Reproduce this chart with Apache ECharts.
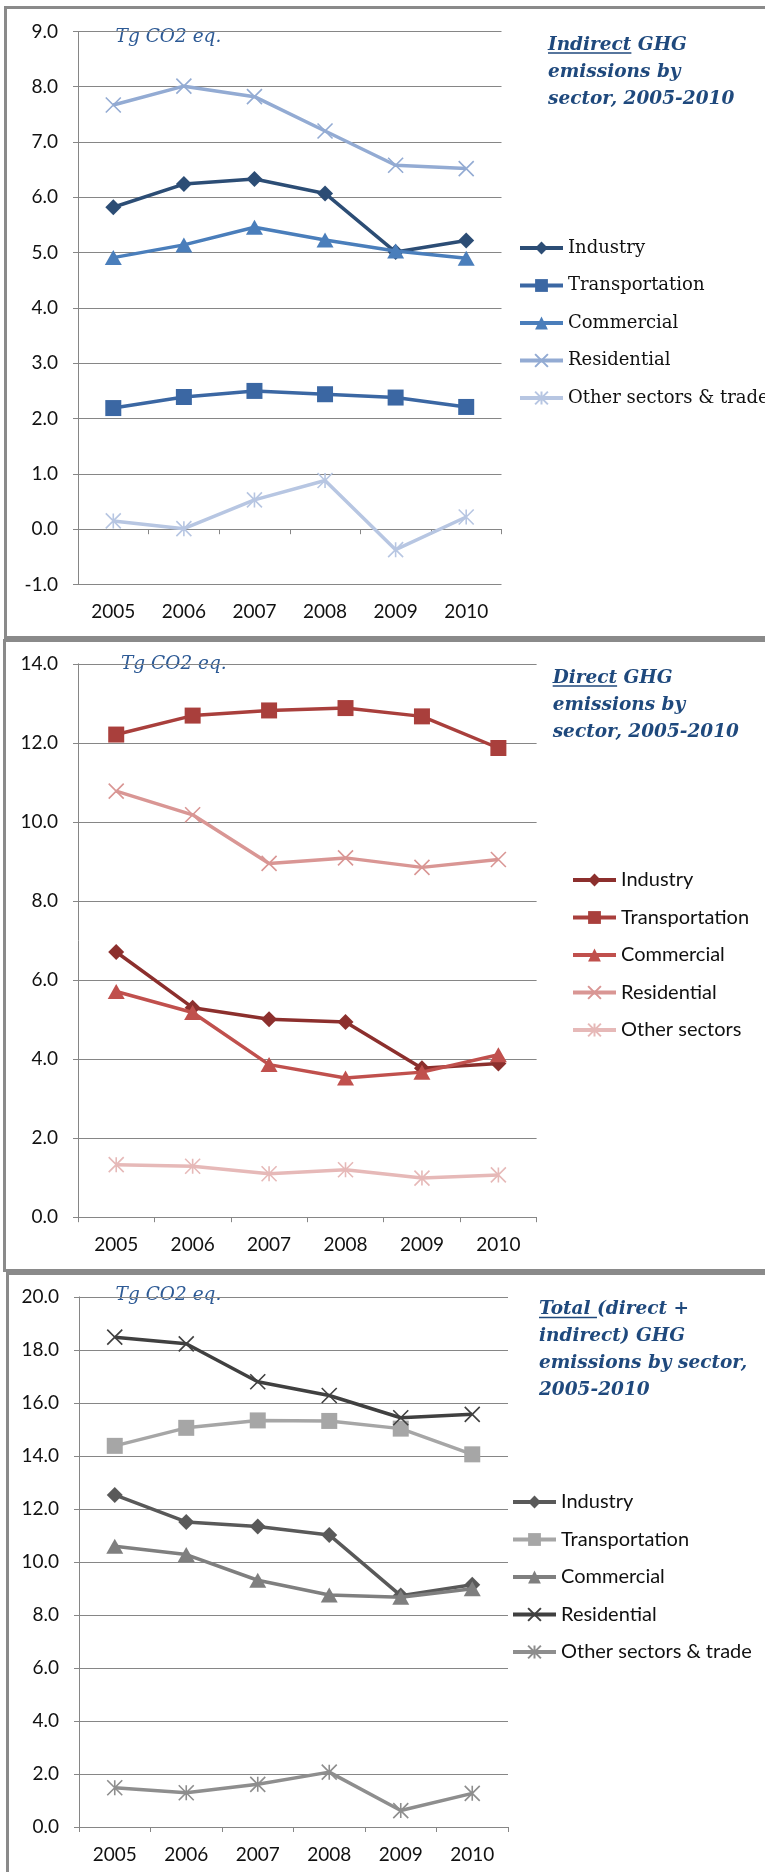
<!DOCTYPE html>
<html>
<head>
<meta charset="utf-8">
<script src="https://cdn.jsdelivr.net/npm/echarts@6/dist/echarts.min.js"></script>
<style>
html,body{margin:0;padding:0;background:#fff;width:765px;height:1872px;overflow:hidden;position:relative}
.panel{position:absolute;border:3px solid #8a8a8a;border-right:none;box-sizing:border-box}
.chart{position:absolute;left:0;width:765px}
</style>
</head>
<body>
<div class="panel" style="left:4px;top:6px;width:800px;height:633px"></div>
<div class="panel" style="left:3px;top:639px;width:800px;height:633px"></div>
<div class="panel" style="left:6px;top:1272px;width:800px;height:700px;border-bottom:none"></div>
<div id="c1" class="chart" style="top:0px;height:637px"></div>
<div id="c2" class="chart" style="top:637px;height:634px"></div>
<div id="c3" class="chart" style="top:1271px;height:601px"></div>
<script>
// ---------- data ----------
const years = ['2005', '2006', '2007', '2008', '2009', '2010'];
const sectorsIndirect = ['Industry', 'Transportation', 'Commercial', 'Residential', 'Other sectors & trade'];
const sectorsDirect = ['Industry', 'Transportation', 'Commercial', 'Residential', 'Other sectors'];
const sectorsTotal = ['Industry', 'Transportation', 'Commercial', 'Residential', 'Other sectors & trade'];

const indirectIndustry = [5.82, 6.24, 6.33, 6.07, 5.01, 5.22];
const indirectTransportation = [2.19, 2.39, 2.50, 2.44, 2.38, 2.21];
const indirectCommercial = [4.91, 5.14, 5.46, 5.23, 5.03, 4.90];
const indirectResidential = [7.67, 8.01, 7.82, 7.20, 6.58, 6.52];
const indirectOther = [0.15, 0.01, 0.53, 0.88, -0.37, 0.22];

const directIndustry = [6.71, 5.30, 5.01, 4.94, 3.77, 3.89];
const directTransportation = [12.21, 12.69, 12.82, 12.88, 12.67, 11.87];
const directCommercial = [5.71, 5.18, 3.86, 3.52, 3.67, 4.11];
const directResidential = [10.78, 10.18, 8.95, 9.09, 8.85, 9.05];
const directOther = [1.33, 1.29, 1.10, 1.20, 0.99, 1.07];

const totalIndustry = [12.53, 11.51, 11.34, 11.02, 8.73, 9.14];
const totalTransportation = [14.38, 15.06, 15.34, 15.32, 15.03, 14.06];
const totalCommercial = [10.59, 10.28, 9.31, 8.75, 8.67, 8.99];
const totalResidential = [18.48, 18.23, 16.80, 16.28, 15.44, 15.57];
const totalOther = [1.48, 1.29, 1.61, 2.07, 0.62, 1.27];

const unitLabel = 'Tg CO2 eq.';
const titleIndirect = ['Indirect GHG', 'emissions by', 'sector, 2005-2010'];
const titleDirect = ['Direct GHG', 'emissions by', 'sector, 2005-2010'];
const titleTotal = ['Total (direct +', 'indirect) GHG', 'emissions by sector,', '2005-2010'];
const underIndirect = 'Indirect';
const underDirect = 'Direct';
const underTotal = 'Total ';

// ---------- styling ----------
const symbolDefs = {
  diamond: { symbol: 'path://M5,0L10,5L5,10L0,5Z', size: 16, stroke: false },
  square: { symbol: 'rect', size: 16, stroke: false },
  triangle: { symbol: 'triangle', size: [17, 15], stroke: false },
  cross: { symbol: 'path://M0,0L10,10M10,0L0,10', size: 15, stroke: true },
  star: { symbol: 'path://M0,0L10,10M10,0L0,10M5,0L5,10', size: 15, stroke: true }
};
const kinds = ['diamond', 'square', 'triangle', 'cross', 'star'];
const gridColor = '#868686';
const titleColor = '#1F497D';
const unitColor = '#2D5A95';

function measure(txt, font) {
  const c = document.createElement('canvas').getContext('2d');
  c.font = font;
  return c.measureText(txt).width;
}

function buildSeries(names, datas, colors) {
  return names.map((n, i) => {
    const d = symbolDefs[kinds[i]];
    return {
      type: 'line', name: n, data: datas[i], color: colors[i],
      symbol: d.symbol, symbolSize: d.size, showSymbol: true, showAllSymbol: true,
      lineStyle: { width: 3.5, color: colors[i] },
      itemStyle: d.stroke ? { color: colors[i], borderColor: colors[i], borderWidth: 1.6 } : { color: colors[i], borderWidth: 0 },
      emphasis: { disabled: true }, animation: false, z: 2 + i
    };
  });
}

function buildOption(cfg) {
  const tFont = 'italic bold 18.5px "DejaVu Serif"';
  const graphics = [{
    type: 'text', x: cfg.unitX, y: cfg.unitY, silent: true,
    style: { text: unitLabel, fontFamily: 'DejaVu Serif', fontStyle: 'italic', fontSize: 18.5, fill: unitColor, verticalAlign: 'middle', align: 'left' }
  }];
  cfg.title.forEach((t, i) => {
    graphics.push({
      type: 'text', x: cfg.titleX, y: cfg.titleY + i * cfg.titleLH, silent: true,
      style: { text: t, fontFamily: 'DejaVu Serif', fontStyle: 'italic', fontWeight: 'bold', fontSize: 18.5, fill: titleColor, verticalAlign: 'middle', align: 'left' }
    });
  });
  const uw = measure(cfg.under, tFont);
  graphics.push({
    type: 'line', silent: true,
    shape: { x1: cfg.titleX, y1: cfg.titleY + 8, x2: cfg.titleX + uw, y2: cfg.titleY + 8 },
    style: { stroke: titleColor, lineWidth: 1.5 }
  });
  return {
    animation: false,
    grid: cfg.grid,
    xAxis: {
      type: 'category', data: years, boundaryGap: true,
      axisLine: { show: true, onZero: true, lineStyle: { color: gridColor, width: 1 } },
      axisTick: { show: true, length: 5, lineStyle: { color: gridColor } },
      axisLabel: { margin: 18, fontFamily: 'Lato', fontSize: 19, color: '#111' },
      splitLine: { show: false }
    },
    yAxis: {
      type: 'value', min: cfg.min, max: cfg.max, interval: cfg.interval,
      axisLine: { show: true, lineStyle: { color: gridColor, width: 1 } },
      axisTick: { show: true, length: 5, lineStyle: { color: gridColor } },
      axisLabel: { margin: 20, fontFamily: 'Lato', fontSize: 19, color: '#111', formatter: v => v.toFixed(1) },
      splitLine: { show: true, lineStyle: { color: gridColor, width: 1 } }
    },
    legend: {
      orient: 'vertical', left: cfg.legendLeft, top: cfg.legendTop, padding: 0,
      itemWidth: 43, itemHeight: 16, itemGap: 17.5,
      lineStyle: { width: 4 },
      textStyle: { fontFamily: cfg.legendFont, fontSize: cfg.legendSize, color: '#111', lineHeight: 20 },
      data: cfg.names
    },
    graphic: graphics,
    series: buildSeries(cfg.names, cfg.datas, cfg.colors)
  };
}

const c1 = echarts.init(document.getElementById('c1'), null, { renderer: 'canvas' });
c1.setOption(buildOption({
  grid: { left: 78, right: 263.5, top: 31.4, bottom: 52.5 },
  min: -1, max: 9, interval: 1,
  names: sectorsIndirect,
  datas: [indirectIndustry, indirectTransportation, indirectCommercial, indirectResidential, indirectOther],
  colors: ['#2C4D75', '#3B67A3', '#4A7EBB', '#93ABD3', '#B7C6E2'],
  legendLeft: 518, legendTop: 238, legendFont: 'DejaVu Serif', legendSize: 18,
  unitX: 115.6, unitY: 36.7,
  title: titleIndirect, titleX: 548, titleY: 45, titleLH: 27, under: underIndirect
}));

const c2 = echarts.init(document.getElementById('c2'), null, { renderer: 'canvas' });
c2.setOption(buildOption({
  grid: { left: 78, right: 228.4, top: 26.8, bottom: 53.8 },
  min: 0, max: 14, interval: 2,
  names: sectorsDirect,
  datas: [directIndustry, directTransportation, directCommercial, directResidential, directOther],
  colors: ['#8C2F2D', '#A93F3C', '#C0504D', '#D99694', '#E6B9B8'],
  legendLeft: 571, legendTop: 233, legendFont: 'Lato', legendSize: 20,
  unitX: 121, unitY: 26.8,
  title: titleDirect, titleX: 552.7, titleY: 41, titleLH: 27, under: underDirect
}));

const c3 = echarts.init(document.getElementById('c3'), null, { renderer: 'canvas' });
c3.setOption(buildOption({
  grid: { left: 79, right: 257, top: 25.9, bottom: 45 },
  min: 0, max: 20, interval: 2,
  names: sectorsTotal,
  datas: [totalIndustry, totalTransportation, totalCommercial, totalResidential, totalOther],
  colors: ['#595959', '#A6A6A6', '#7F7F7F', '#404040', '#8E8E8E'],
  legendLeft: 511, legendTop: 221, legendFont: 'Lato', legendSize: 20,
  unitX: 115.6, unitY: 24,
  title: titleTotal, titleX: 539, titleY: 38.5, titleLH: 26.8, under: underTotal
}));
</script>
</body>
</html>
